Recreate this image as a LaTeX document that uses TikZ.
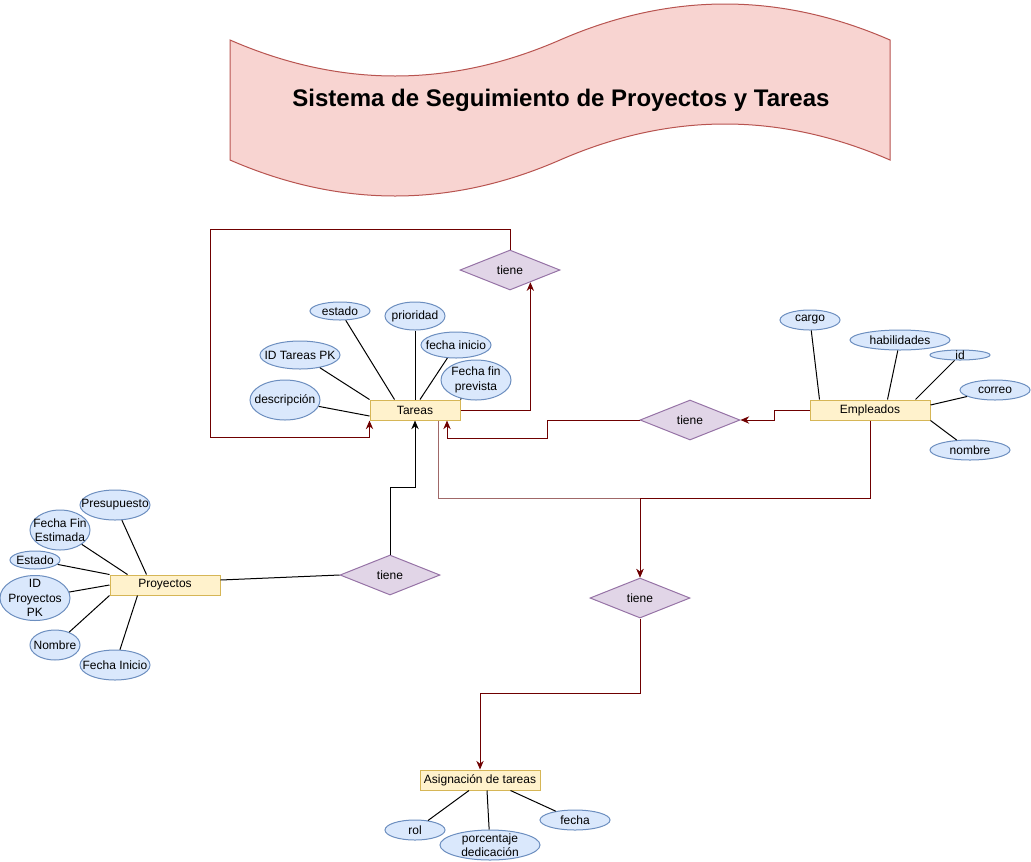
\documentclass[tikz,border=0pt]{standalone}
\usepackage{fontspec}
\setmainfont{Liberation Sans}
\usetikzlibrary{shapes.geometric,calc,arrows.meta}
\definecolor{entfill}{HTML}{FFF2CC}
\definecolor{entline}{HTML}{D6B656}
\definecolor{relfill}{HTML}{E1D5E7}
\definecolor{relline}{HTML}{9673A6}
\definecolor{attfill}{HTML}{DAE8FC}
\definecolor{attline}{HTML}{6C8EBF}
\definecolor{bandfill}{HTML}{F8D4D1}
\definecolor{bandline}{HTML}{B85450}
\definecolor{rojo}{HTML}{6F0000}
\definecolor{rosado}{HTML}{A06868}
\tikzset{
    entidad/.style  = {shape=rectangle, draw=entline, fill=entfill,
        inner sep=0pt, minimum height=15pt, minimum width={#1*0.75pt}},
    relacion/.style = {shape=diamond, draw=relline, fill=relfill,
        inner sep=0pt, minimum width=75pt, minimum height=30pt},
    atributo/.style 2 args = {shape=ellipse, draw=attline, fill=attfill,
        inner sep=0pt, minimum width={#1*0.75pt}, minimum height={#2*0.75pt}},
    banda/.style    = {draw=bandline, fill=bandfill},
    titulo/.style   = {font=\fontsize{18}{21}\selectfont\bfseries},
    flecha/.style   = {draw=rojo, -{Stealth[length=6.5pt, width=5.5pt]}}
}

\begin{document}
\begin{tikzpicture}
            [
            x                  = 0.75pt,
            y                  = -0.75pt,
            line width         = 0.75pt,
            every node/.style  = {font=\fontsize{9}{10.8}\selectfont},
            every label/.style = {font=\fontsize{9}{10.8}\selectfont, align=center}
            ]
            \useasboundingbox (0,0) rectangle (1031,861);

            \draw[banda] (230,40) .. controls (340,88) and (450,88) .. (560,40)
                .. controls (670,-8) and (780,-8) .. (890,40) -- (890,160)
                .. controls (780,112) and (670,112) .. (560,160)
                .. controls (450,208) and (340,208) .. (230,160) -- cycle;
            \node[titulo] (titulo) at (561,100) {Sistema de Seguimiento de Proyectos y Tareas};

            \node[entidad=90]  (tareas)     at (415,410) {Tareas};
            \node[entidad=120] (empleados)  at (870,410) {Empleados};
            \node[entidad=110] (proyectos)  at (165,585) {Proyectos};
            \node[entidad=120] (asignacion) at (480,780) {Asignación de tareas};

            \node[relacion] (tiene1) at (510,270) {tiene};
            \node[relacion] (tiene2) at (690,420) {tiene};
            \node[relacion] (tiene3) at (390,575) {tiene};
            \node[relacion] (tiene4) at (640,598) {tiene};

            \node[atributo={60}{18}, label=center:estado]      (estado)      at (340,311) {};
            \node[atributo={60}{28}, label=center:prioridad]   (prioridad)   at (415,316) {};
            \node[atributo={70}{26}, label=center:fecha inicio] (fechainicio) at (456,345) {};
            \node[atributo={80}{28}, label=center:ID Tareas PK] (idtareas)   at (300,355) {};
            \node[atributo={70}{40}, label={center:Fecha fin\\prevista}] (fechafin) at (476,380) {};
            \node[atributo={70}{40}, label=center:descripción] (descripcion) at (285,400) {};

            \node[atributo={60}{20},  label=center:cargo]       (cargo)       at (810,320) {};
            \node[atributo={100}{20}, label=center:habilidades] (habilidades) at (900,340) {};
            \node[atributo={60}{10},  label=center:id]          (id)          at (960,355) {};
            \node[atributo={70}{20},  label=center:correo]      (correo)      at (995,390) {};
            \node[atributo={80}{20},  label=center:nombre]      (nombre)      at (970,450) {};

            \node[atributo={70}{30}, label=center:Presupuesto] (presupuesto) at (115,505) {};
            \node[atributo={60}{40}, label={center:Fecha Fin\\Estimada}] (fechafinest) at (60,530) {};
            \node[atributo={50}{18}, label=center:Estado]      (estadop)     at (35,560) {};
            \node[atributo={70}{45}, label={center:ID\\Proyectos\\PK}] (idproyectos) at (35,598) {};
            \node[atributo={50}{30}, label=center:Nombre]      (nombrep)     at (55,645) {};
            \node[atributo={70}{30}, label=center:Fecha Inicio] (fechainiciop) at (115,665) {};

            \node[atributo={60}{20},  label=center:rol]   (rol)        at (415,830) {};
            \node[atributo={100}{30}, label={center:porcentaje\\dedicación}] (porcentaje) at (490,845) {};
            \node[atributo={70}{20},  label=center:fecha] (fecha)      at (575,820) {};

            \draw (descripcion) -- ($(tareas.west)+(0,6)$);
            \draw (idtareas)    -- (tareas.north west);
            \draw (estado)      -- ($(tareas.north west)+(25,0)$);
            \draw (prioridad)   -- (tareas.north);
            \draw (fechainicio) -- ($(tareas.north)+(5,0)$);
            \draw (fechafin)    -- (tareas.north east);

            \draw (cargo)       -- ($(empleados.north west)+(10,0)$);
            \draw (habilidades) -- ($(empleados.north west)+(78,0)$);
            \draw (id)          -- ($(empleados.north east)+(-15,0)$);
            \draw (correo)      -- ($(empleados.east)+(0,-5)$);
            \draw (nombre)      -- (empleados.south east);

            \draw (presupuesto)  -- ($(proyectos.north west)+(37,0)$);
            \draw (fechafinest)  -- ($(proyectos.north west)+(18,0)$);
            \draw (estadop)      -- (proyectos.north west);
            \draw (idproyectos)  -- (proyectos.west);
            \draw (nombrep)      -- (proyectos.south west);
            \draw (fechainiciop) -- ($(proyectos.south west)+(28,0)$);

            \draw (rol)        -- ($(asignacion.south)+(-11,0)$);
            \draw (porcentaje) -- ($(asignacion.south)+(7,0)$);
            \draw (fecha)      -- ($(asignacion.south east)+(-30,0)$);

            \draw[flecha] (tiene1.north) -- ++(0,-20) -| ++(-300,208) -| (tareas.south west);
            \draw[flecha] (tareas.east) -| (tiene1.-31);
            \draw[flecha] (empleados.west) -- ++(-35,0) |- (tiene2.east);
            \draw[flecha] (tiene2.west) -| ++(-92,18) -| ($(tareas.south)+(32,0)$);
            \draw ($(proyectos.east)+(0,-5)$) -- (tiene3.west);
            \draw[flecha, draw=black] (tiene3.north) -- ++(0,-67) -| (tareas.south);
            \draw[flecha, draw=rosado] ($(tareas.south)+(23,0)$) -- ++(0,78) -| (tiene4.north);
            \draw[flecha] (empleados.south) -- ++(0,78) -| (tiene4.north);
            \draw[flecha] (tiene4.south) -- ++(0,75) -| (asignacion.north);
\end{tikzpicture}
\end{document}
